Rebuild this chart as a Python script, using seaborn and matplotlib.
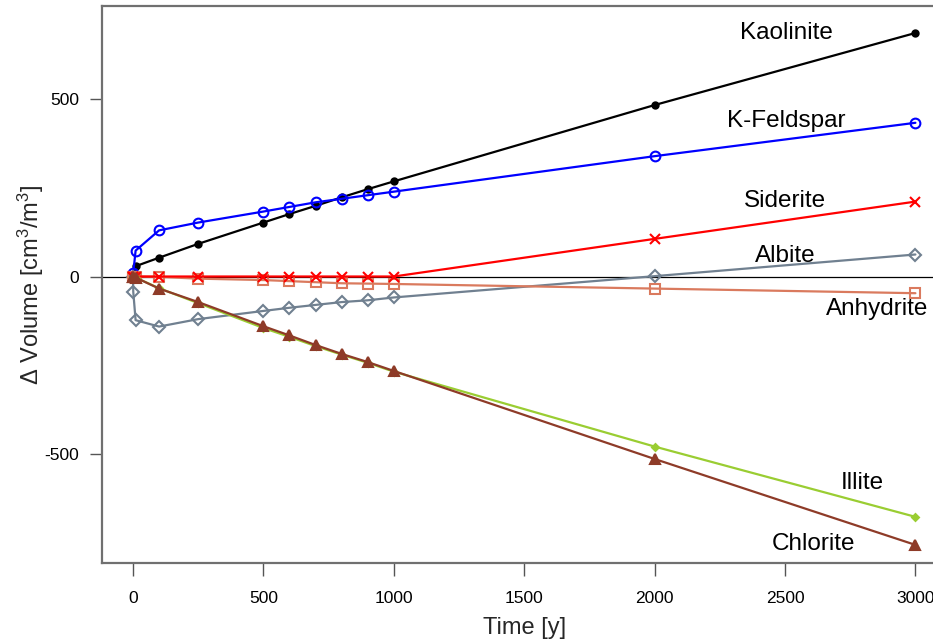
import matplotlib
matplotlib.use("Agg")
import matplotlib.pyplot as plt
import seaborn as sns
import numpy as np

# Simulation output times [y]
time = [0, 1, 10, 100, 250, 500, 600, 700, 800, 900, 1000, 2000, 3000]

# Volume change of each mineral [cm3/m3]
kaolinite = [0, 3, 29, 53, 92, 152, 176, 199, 223, 246, 268, 483, 686]
k_feldspar = [0, 10, 73, 130, 152, 183, 196, 209, 219, 229, 239, 339, 433]
siderite = [0, 0, 0, 0, 0, 0, 0, 0, 0, 0, 0, 106, 211]
albite = [0, -43, -123, -141, -120, -97, -88, -80, -72, -67, -59, 1, 62]
anhydrite = [0, 0, 0, -1, -6, -10, -13, -16, -19, -20, -21, -34, -47]
illite = [0, -1, -3, -33, -75, -145, -170, -196, -220, -243, -268, -479, -677]
chlorite = [0, -1, -3, -34, -72, -140, -166, -193, -218, -241, -266, -514, -756]

mineral_names = ["Kaolinite", "K-Feldspar", "Albite", "Anhydrite", "Siderite", "Illite", "Chlorite"]

sns.set_theme(style="white")
plt.rcParams["font.family"] = ["Liberation Sans", "DejaVu Sans"]
plt.rcParams["mathtext.fontset"] = "custom"
plt.rcParams["mathtext.rm"] = "Liberation Sans"
plt.rcParams["mathtext.it"] = "Liberation Sans"
plt.rcParams["axes.unicode_minus"] = False

fig = plt.figure(figsize=(9.33, 6.44), dpi=100)
ax = fig.add_axes([101.7 / 933, 1 - 563 / 644, (946.7 - 101.7) / 933, (563 - 6) / 644])

ax.axhline(0, color="black", lw=0.9, zorder=1)

styles = {
    "Kaolinite": dict(values=kaolinite, color="black", marker="o", ms=4.5, mfc="black"),
    "K-Feldspar": dict(values=k_feldspar, color="#0000FF", marker="o", ms=7, mfc="none"),
    "Albite": dict(values=albite, color="#708090", marker="D", ms=6.5, mfc="none"),
    "Anhydrite": dict(values=anhydrite, color="#DA7A5E", marker="s", ms=6.5, mfc="none"),
    "Siderite": dict(values=siderite, color="#FF0000", marker="x", ms=7, mfc="none"),
    "Illite": dict(values=illite, color="#9ACD32", marker="D", ms=3.5, mfc="#9ACD32"),
    "Chlorite": dict(values=chlorite, color="#8E3B28", marker="^", ms=7, mfc="#8E3B28"),
}

for name in mineral_names:
    st = styles[name]
    sns.lineplot(x=time, y=st["values"], ax=ax, color=st["color"], lw=1.6,
                 marker=st["marker"], markersize=st["ms"],
                 markerfacecolor=st["mfc"], markeredgecolor=st["color"],
                 markeredgewidth=1.5, zorder=3)

labels = {
    "Kaolinite": (2504, 686),
    "K-Feldspar": (2504, 438),
    "Siderite": (2500, 213),
    "Albite": (2500, 58),
    "Anhydrite": (2852, -92),
    "Illite": (2795, -582),
    "Chlorite": (2608, -754),
}
for name, (lx, ly) in labels.items():
    ax.text(lx, ly, name, fontsize=17.5, ha="center", va="center", color="black")

ax.set_xlim(-120, 3120)
ax.set_ylim(-807, 762)
ax.set_xticks([0, 500, 1000, 1500, 2000, 2500, 3000])
ax.set_yticks([-500, 0, 500])

for side in ["left", "bottom", "top", "right"]:
    ax.spines[side].set_visible(True)
    ax.spines[side].set_color("#707070")
    ax.spines[side].set_linewidth(1.6)

ax.tick_params(axis="both", which="both", direction="out", length=9, width=1.0,
               color="#555555", labelsize=12.5, labelcolor="black")
ax.tick_params(axis="x", pad=11, bottom=True)
ax.tick_params(axis="y", pad=7, left=True)

ax.set_xlabel("Time [y]", fontsize=17)
ax.set_ylabel(r"$\Delta$ Volume [cm$^{3}$/m$^{3}$]", fontsize=17)
ax.xaxis.set_label_coords(0.5, -0.097)
ax.yaxis.set_label_coords(-0.066, 0.5)

fig.savefig("out.png", dpi=100)
